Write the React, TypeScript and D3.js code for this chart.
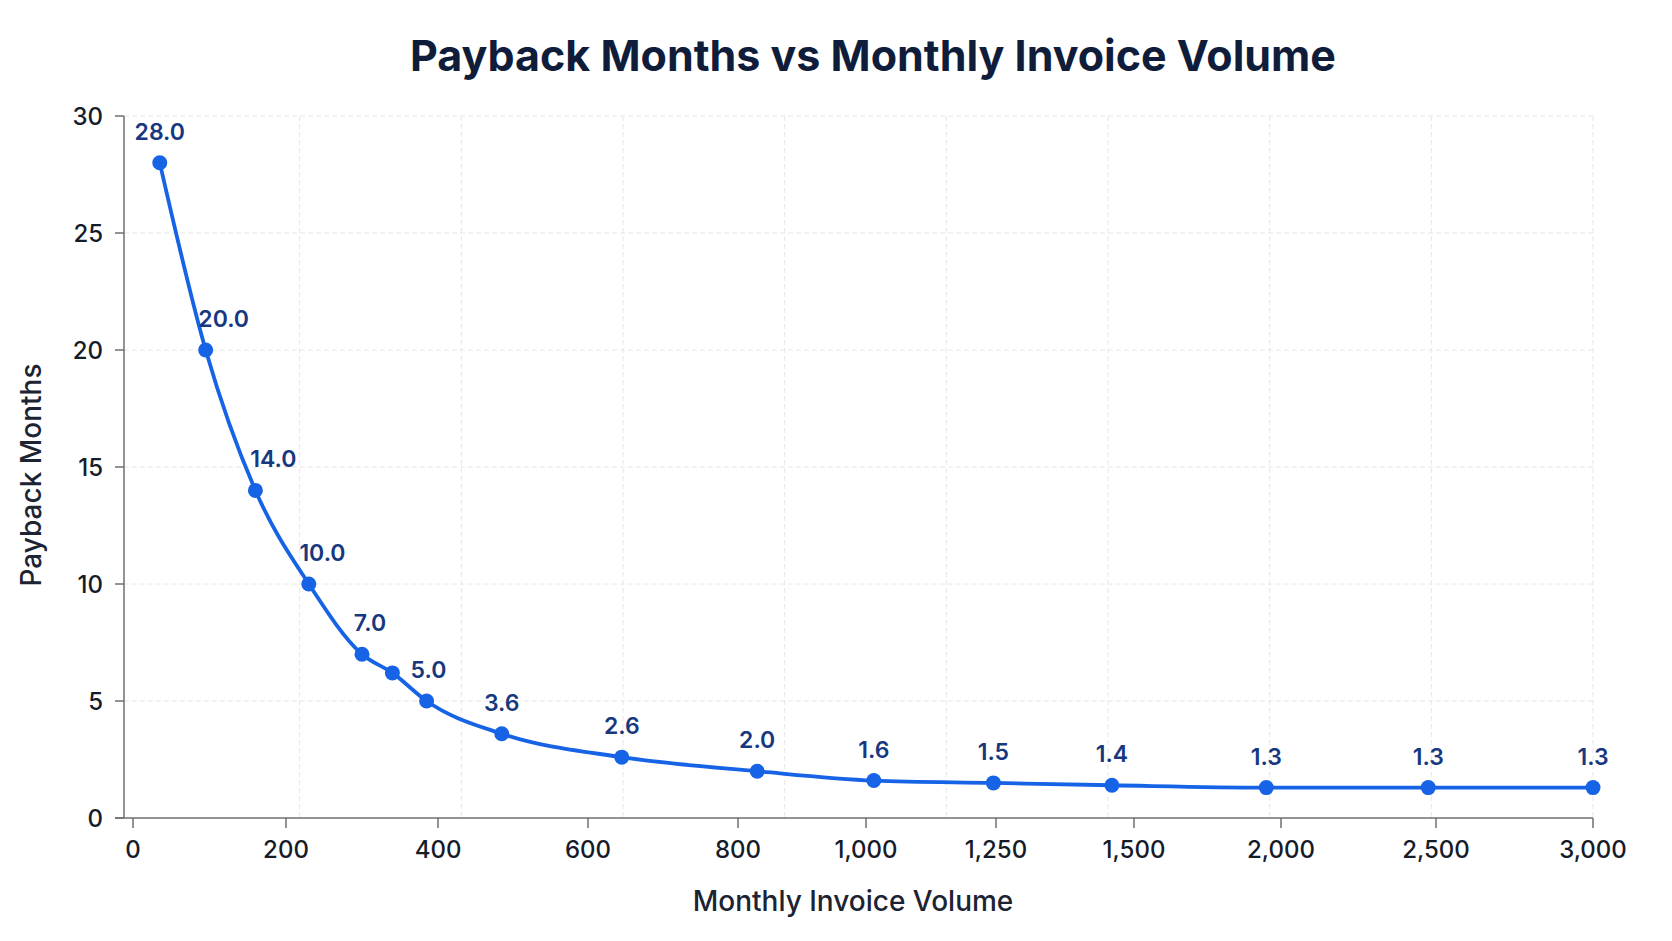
import React, { useEffect } from 'react'
import * as d3 from 'd3'

// Monthly invoice volume (x) and payback in months (y)
const volumes = [35, 95, 160, 230, 300, 340, 385, 485, 645, 830, 1015, 1245, 1460, 1950, 2475, 3000]
const paybackMonths = [28.0, 20.0, 14.0, 10.0, 7.0, 6.2, 5.0, 3.6, 2.6, 2.0, 1.6, 1.5, 1.4, 1.3, 1.3, 1.3]
const showLabel = [true, true, true, true, true, false, true, true, true, true, true, true, true, true, true, true]

const xTickValues = [0, 200, 400, 600, 800, 1000, 1250, 1500, 2000, 2500, 3000]
const yTickValues = [0, 5, 10, 15, 20, 25, 30]

const WIDTH = 1672
const HEIGHT = 941
const plot = { left: 124, right: 1593, top: 116, bottom: 818 }
// the volume axis is stretched unevenly; offsets of each tick from the plot's left edge
const xStops = [9, 162, 314, 464, 614, 742, 872, 1010, 1157, 1312, 1469]

const FONT = 'Inter, "Noto Sans", "DejaVu Sans", sans-serif'
const BLUE = '#1763e6'

const App: React.FC = () => {
  useEffect(() => {
    document.body.style.margin = '0'
    document.body.style.background = '#ffffff'
  }, [])

  const x = d3.scaleLinear()
    .domain(xTickValues)
    .range(xStops.map(o => plot.left + o))

  const y = d3.scaleLinear()
    .domain([0, 30])
    .range([plot.bottom, plot.top])

  // evenly spaced background columns
  const gridX = d3.scaleLinear().domain([0, 9]).range([138, plot.right])

  const points = volumes.map((v, i) => ({
    v,
    m: paybackMonths[i],
    px: x(v),
    py: y(paybackMonths[i]),
    label: showLabel[i],
  }))

  const line = d3.line<typeof points[number]>()
    .x(d => d.px)
    .y(d => d.py)
    .curve(d3.curveMonotoneX)

  // push labels right where the curve is steep so they clear the line
  const labelShift = (i: number) => {
    if (i === 0 || i === points.length - 1) return 0
    const a = points[i - 1]
    const b = points[i + 1]
    const slope = Math.abs((b.py - a.py) / (b.px - a.px))
    return Math.min(18, Math.max(0, (slope - 0.4) * 12))
  }

  return (
    <svg width={WIDTH} height={HEIGHT} style={{ display: 'block', background: '#fff' }} fontFamily={FONT}>
      <text x={873} y={71} textAnchor="middle" fontSize={43} fontWeight={700} fill="#0f1d3a">
        Payback Months vs Monthly Invoice Volume
      </text>

      {/* grid */}
      <g stroke="#e6e6e6" strokeWidth={1} strokeDasharray="5 3">
        {yTickValues.filter(t => t > 0).map(t => (
          <line key={'gy' + t} x1={plot.left} x2={plot.right} y1={y(t)} y2={y(t)} />
        ))}
        {d3.range(1, 10).map(i => (
          <line key={'gx' + i} x1={gridX(i)} x2={gridX(i)} y1={plot.top} y2={plot.bottom} />
        ))}
      </g>

      {/* y axis */}
      <g>
        <line x1={plot.left} x2={plot.left} y1={plot.top} y2={plot.bottom} stroke="#6f6f6f" strokeWidth={1.5} />
        {yTickValues.map(t => (
          <g key={'yt' + t} transform={`translate(0,${y(t)})`}>
            <line x1={plot.left - 9} x2={plot.left} stroke="#6f6f6f" strokeWidth={1.5} />
            <text x={plot.left - 21} dy="0.36em" textAnchor="end" fontSize={24} fontWeight={500} fill="#161b29">{t}</text>
          </g>
        ))}
      </g>

      {/* x axis */}
      <g>
        <line x1={plot.left - 9} x2={plot.right} y1={plot.bottom} y2={plot.bottom} stroke="#6f6f6f" strokeWidth={1.5} />
        {xTickValues.map(t => (
          <g key={'xt' + t} transform={`translate(${x(t)},${plot.bottom})`}>
            <line y1={0} y2={10} stroke="#6f6f6f" strokeWidth={1.5} />
            <text y={40} textAnchor="middle" fontSize={24} fontWeight={500} fill="#161b29">{d3.format(',')(t)}</text>
          </g>
        ))}
      </g>

      <text x={853} y={911} textAnchor="middle" fontSize={28} fontWeight={500} fill="#1c2433">
        Monthly Invoice Volume
      </text>
      <text transform="translate(41,475) rotate(-90)" textAnchor="middle" fontSize={28} fontWeight={500} fill="#1c2433">
        Payback Months
      </text>

      {/* series */}
      <path d={line(points) || ''} fill="none" stroke={BLUE} strokeWidth={3.8} />
      {points.map((p, i) => (
        <circle key={'pt' + i} cx={p.px} cy={p.py} r={7.5} fill={BLUE} />
      ))}
      {points.map((p, i) => p.label && (
        <text
          key={'lb' + i}
          x={p.px + labelShift(i)}
          y={p.py - 23}
          textAnchor="middle"
          fontSize={23}
          fontWeight={600}
          fill="#17387f"
        >
          {p.m.toFixed(1)}
        </text>
      ))}
    </svg>
  )
}

export default App
